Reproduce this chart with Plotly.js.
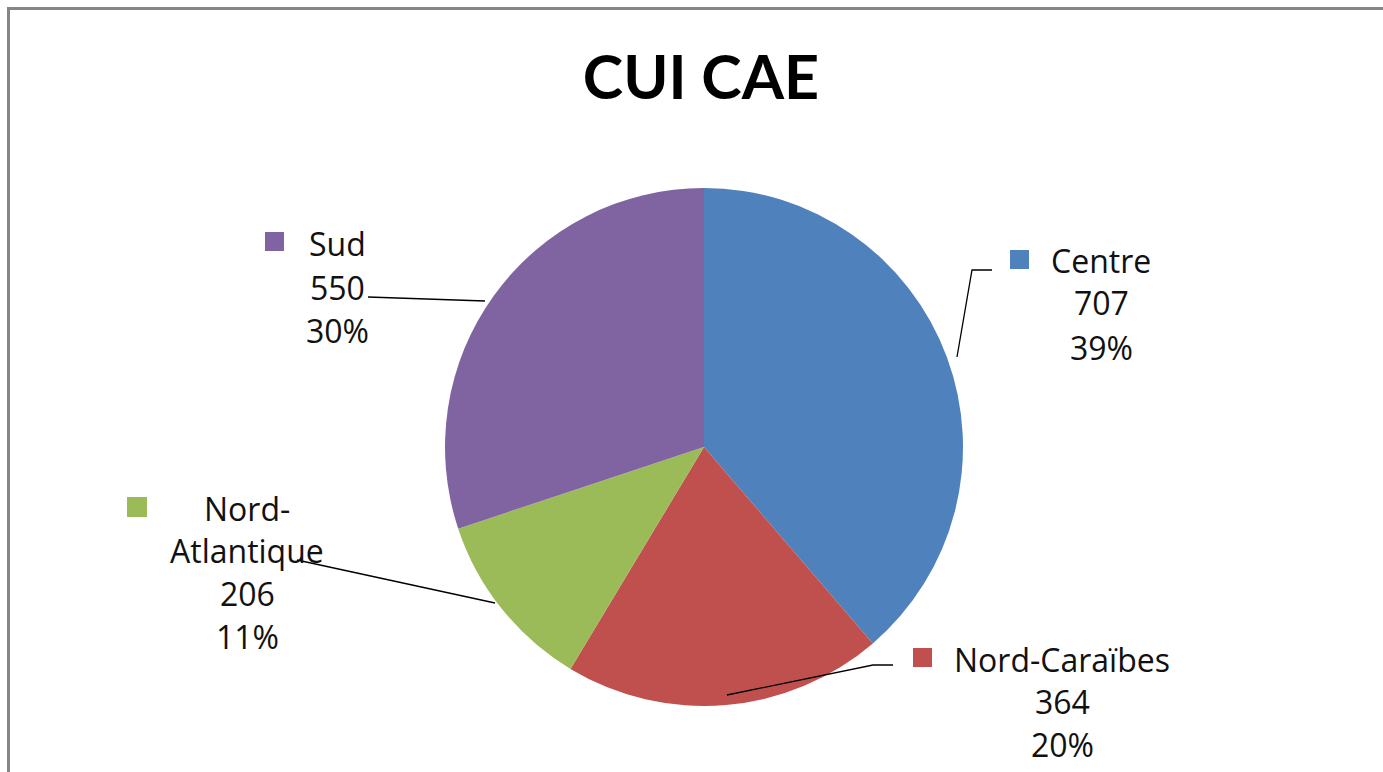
<!DOCTYPE html>
<html>
<head>
<meta charset="utf-8">
<script src="https://cdn.plot.ly/plotly-3.0.1.min.js"></script>
<style>html,body{margin:0;padding:0;background:#fff;}#chart{width:1383px;height:772px;}</style>
</head>
<body>
<div id="chart"></div>
<script>
// ---- data ----
const categories = ['Centre', 'Nord-Caraïbes', 'Nord-Atlantique', 'Sud'];
const values = [707, 364, 206, 550];
const colors = ['#4F81BD', '#C0504D', '#9BBB59', '#8064A2'];
const chartTitle = 'CUI CAE';

const W = 1383, H = 772;
const px = x => x / W;
const py = y => 1 - y / H;
const total = values.reduce((a, b) => a + b, 0);
const pct = values.map(v => Math.round(v / total * 100) + '%');

// label layout (pixel positions of each text block)
const labelFont = {family: '"Open Sans", Lato, sans-serif', size: 32, color: '#111'};
const blocks = [
  {lines: [categories[0], String(values[0]), pct[0]], xs: [1101, 1101, 1101], ys: [260, 302, 347], sq: [1010, 250, 19]},
  {lines: [categories[1], String(values[1]), pct[1]], xs: [1062, 1062, 1062], ys: [659, 701, 744], sq: [913, 648, 19]},
  {lines: ['Nord-', 'Atlantique', String(values[2]), pct[2]], xs: [247, 247, 247, 247], ys: [508, 550, 593, 636], sq: [127, 497, 20]},
  {lines: [categories[3], String(values[3]), pct[3]], xs: [337, 337, 337], ys: [243, 287, 330], sq: [265, 232, 19]}
];
const annotations = [];
const shapes = [];
blocks.forEach((b, i) => {
  b.lines.forEach((t, j) => {
    annotations.push({xref: 'paper', yref: 'paper', x: px(b.xs[j]), y: py(b.ys[j]), text: t,
      showarrow: false, xanchor: 'center', yanchor: 'middle', font: labelFont});
  });
  const [sx, sy, s] = b.sq;
  shapes.push({type: 'rect', xref: 'paper', yref: 'paper', x0: px(sx), x1: px(sx + s), y0: py(sy), y1: py(sy + s),
    fillcolor: colors[i], line: {width: 0}});
});
// leader lines
const leaders = [
  [[957, 357], [972, 270], [992, 270]],
  [[727, 695], [873, 665], [893, 665]],
  [[495, 603], [297, 560]],
  [[485, 301], [368, 297]]
];
leaders.forEach(pts => {
  const d = pts.map((p, k) => (k ? 'L' : 'M') + px(p[0]) + ',' + py(p[1])).join(' ');
  shapes.push({type: 'path', xref: 'paper', yref: 'paper', path: d, line: {color: '#000', width: 1.3}});
});
// frame (top and left edges visible)
shapes.push({type: 'line', xref: 'paper', yref: 'paper', x0: px(8.5), x1: px(8.5), y0: py(7), y1: py(772), line: {color: '#868686', width: 3}});
shapes.push({type: 'line', xref: 'paper', yref: 'paper', x0: px(7), x1: px(1383), y0: py(8.5), y1: py(8.5), line: {color: '#868686', width: 3}});

const cx = 704, cy = 447, r = 259;
const trace = {
  type: 'pie',
  labels: categories,
  values: values,
  sort: false,
  direction: 'clockwise',
  rotation: 0,
  marker: {colors: colors, line: {width: 0}},
  textinfo: 'none',
  hoverinfo: 'label+value+percent',
  showlegend: false,
  domain: {x: [px(cx - r), px(cx + r)], y: [py(cy + r), py(cy - r)]}
};

const layout = {
  width: W, height: H,
  margin: {l: 0, r: 0, t: 0, b: 0},
  paper_bgcolor: '#fff',
  title: {text: '<b>' + chartTitle + '</b>', x: px(701), xanchor: 'center', y: py(78), yanchor: 'middle',
    font: {family: 'Lato, "Open Sans", sans-serif', size: 61, color: '#000'}},
  showlegend: false,
  annotations: annotations,
  shapes: shapes
};
Plotly.newPlot('chart', [trace], layout, {displayModeBar: false, staticPlot: true});
</script>
</body>
</html>
